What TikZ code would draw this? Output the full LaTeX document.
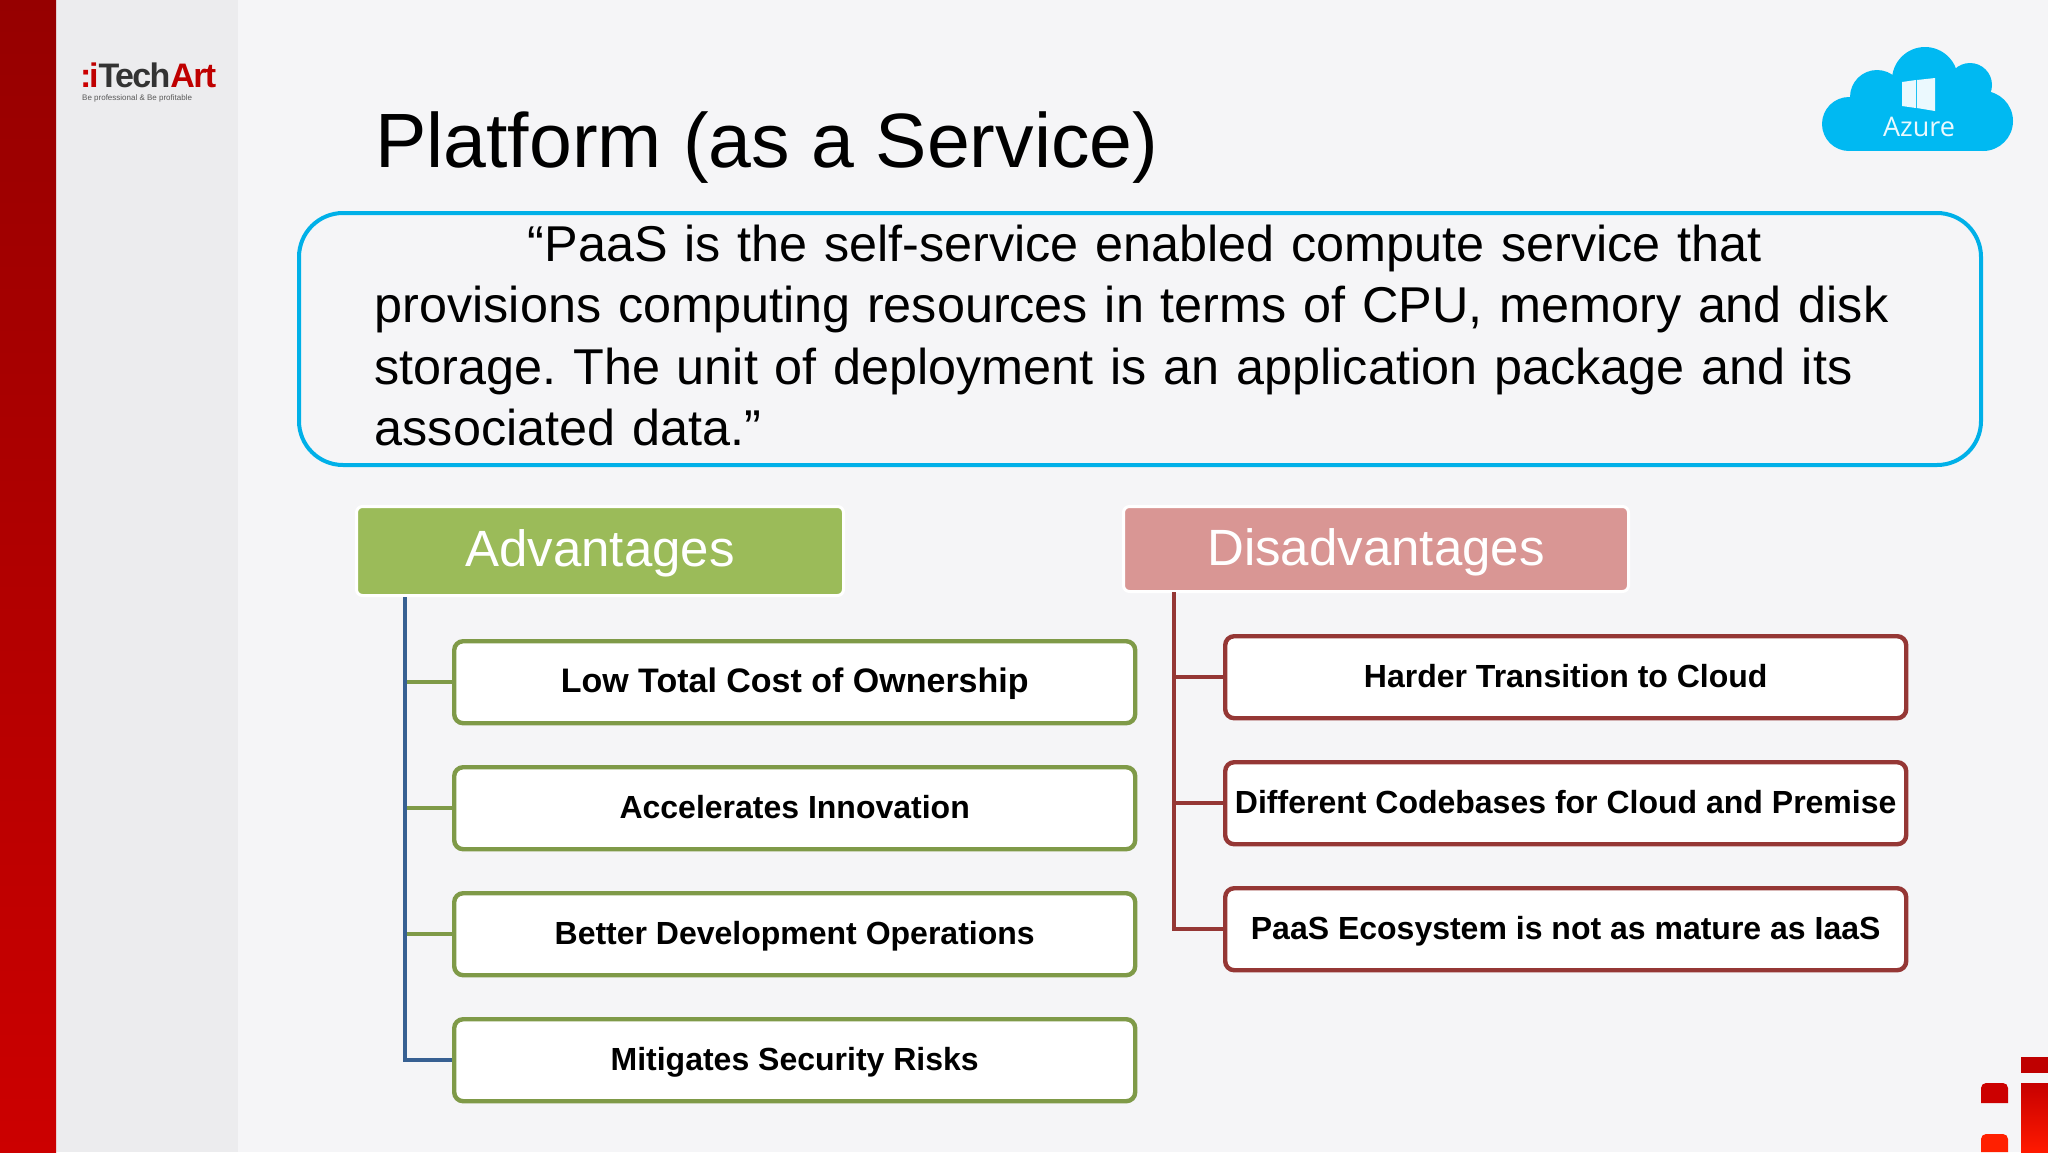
\documentclass[tikz,border=0pt]{standalone}
\usepackage{fontspec}
\setmainfont{Liberation Sans}
\newfontfamily\azurefont{Open Sans}
\definecolor{pagebg}{HTML}{F5F5F7}
\definecolor{sidegray}{HTML}{ECECEE}
\definecolor{azureblue}{HTML}{00B9F2}
\definecolor{quoteline}{HTML}{00B0E8}
\definecolor{advfill}{HTML}{9BBB59}
\definecolor{advline}{HTML}{7F9A48}
\definecolor{disfill}{HTML}{D99694}
\definecolor{disline}{HTML}{953735}
\definecolor{trunkblue}{HTML}{376092}
\definecolor{redtop}{HTML}{960000}
\definecolor{redbot}{HTML}{CC0000}
\newcommand{\fs}[1]{\fontsize{#1}{#1}\selectfont}
\tikzset{
  header/.style={draw=white,line width=3pt,rounded corners=6pt,text=white,inner sep=0pt,anchor=north west,font=\fs{51},text height=40pt},
  itembox/.style={fill=white,line width=4.4pt,rounded corners=9pt,minimum width=681pt,minimum height=82pt,inner sep=0pt,anchor=north west,font=\bfseries\fs{32},text height=26pt,text depth=6pt},
  advitem/.style={itembox,draw=advline},
  disitem/.style={itembox,draw=disline},
  advbranch/.style={draw=advline,line width=4.4pt},
  disbranch/.style={draw=disline,line width=4.4pt},
}
\begin{document}
\begin{tikzpicture}[x=1pt,y=-1pt]
\useasboundingbox (0,0) rectangle (2048,1152);
\fill[pagebg] (0,0) rectangle (2048,1152);
\fill[sidegray] (56,0) rectangle (238,1152);
\shade[top color=redtop,bottom color=redbot] (0,0) rectangle (56,1152);

% logo top left
\node[anchor=base west,inner sep=0pt,font=\bfseries\fs{34}] (logomark) at (80,87) {\textcolor{red!80!black}{:}};
\node[anchor=base west,inner sep=0pt,font=\bfseries\fs{34}\addfontfeature{LetterSpace=-5}] (logotext) at (89,87) {\textcolor{red!75!black}{i}\textcolor{black!80}{Tech}\textcolor{red!75!black}{Art}};
\node[anchor=base west,inner sep=0pt,font=\fs{8},text=black!65] (logotag) at (82,100) {Be professional \& Be profitable};

% azure cloud
\fill[azureblue] (1849,124) circle (27) (1877,97) circle (27) (1925,80) circle (33)
  (1970,85) circle (22) (1983,121) circle (30);
\fill[azureblue] (1849,112) rectangle (1985,151);
\fill[azureblue] (1875,90) rectangle (1975,125);
\fill[white!92!azureblue] (1902,82) -- (1916,80) -- (1916,108) -- (1902,106) -- cycle;
\fill[white!92!azureblue] (1917,80) -- (1935,78) -- (1935,111) -- (1917,108) -- cycle;
\node[inner sep=0pt,text=white!92!azureblue,font=\azurefont\fs{27}] (azure) at (1919,127) {Azure};

% title
\node[anchor=base west,inner sep=0pt,font=\fs{77}] (title) at (375,167) {Platform (as a Service)};

% quote
\draw[quoteline,line width=4pt,rounded corners=44pt] (299,213) rectangle (1981,465);
\node[anchor=north west,inner sep=0pt,align=left,font=\fontsize{50.35}{61.3}\selectfont,text width=1600pt] (quote) at (374.5,225)
 {\frenchspacing\hspace*{153pt}“PaaS is the self-service enabled compute service that\\
 provisions computing resources in terms of CPU, memory and disk\\
 storage. The unit of deployment is an application package and its\\
 associated data.”};

% headers
\node[header,fill=advfill,minimum width=487pt,minimum height=89pt,text depth=8.6pt] (adv) at (355,505) {Advantages};
\node[header,fill=disfill,minimum width=505pt,minimum height=85pt,text depth=7.2pt] (dis) at (1122,505) {Disadvantages};

% items
\node[advitem,font=\bfseries\fs{34}] (a1) at (452,639) {Low Total Cost of Ownership};
\node[advitem] (a2) at (452,765) {Accelerates Innovation};
\node[advitem] (a3) at (452,891) {Better Development Operations};
\node[advitem] (a4) at (452,1017) {Mitigates Security Risks};
\node[disitem] (d1) at (1223,634) {Harder Transition to Cloud};
\node[disitem] (d2) at (1223,760) {Different Codebases for Cloud and Premise};
\node[disitem] (d3) at (1223,886) {PaaS Ecosystem is not as mature as IaaS};

% connectors
\coordinate (atrunk) at (405,597);
\coordinate (dtrunk) at (1174,592);
\draw[advbranch] (atrunk |- a1.west) -- (a1.west);
\draw[advbranch] (atrunk |- a2.west) -- (a2.west);
\draw[advbranch] (atrunk |- a3.west) -- (a3.west);
\draw[draw=trunkblue,line width=4.4pt] (atrunk) |- (a4.west);
\draw[disbranch] (dtrunk |- d1.west) -- (d1.west);
\draw[disbranch] (dtrunk |- d2.west) -- (d2.west);
\draw[disbranch] (dtrunk) |- (d3.west);

% corner mark
\fill[red!75!black] (2021,1057) rectangle (2048,1073);
\shade[top color=red!78!black,bottom color=red!80!orange] (2021,1083) rectangle (2048,1152);
\fill[red!80!black] (1981,1103) {[rounded corners=5pt] -- (1981,1083) -- (2008,1083)} -- (2008,1103) -- cycle;
\fill[red!75!orange] (1981,1152) {[rounded corners=5pt] -- (1981,1134) -- (2008,1134)} -- (2008,1152) -- cycle;
\end{tikzpicture}
\end{document}
